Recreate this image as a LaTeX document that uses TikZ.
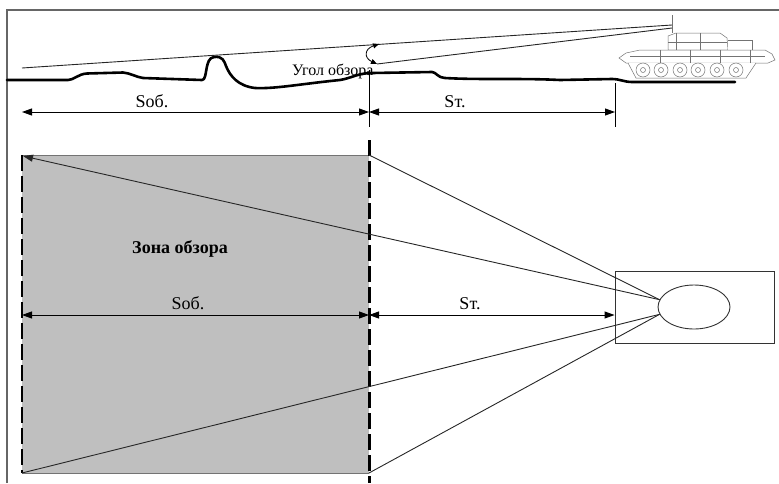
\documentclass[tikz,border=0pt]{standalone}
\usepackage{fontspec}
\setmainfont{Liberation Serif}
\usetikzlibrary{arrows.meta,shapes.geometric}

\tikzset{
	razmer/.style={{Triangle[length=10pt,width=7pt]}-{Triangle[length=10pt,width=7pt]}, line width=0.9pt},
	luch/.style={line width=0.9pt, black!85},
	grunt/.style={line width=2.6pt, line join=round, line cap=round},
	granica/.style={line width=2.2pt, dash pattern=on 16pt off 5pt},
	tank/.style={line width=0.5pt, black!55},
	podpis/.style={font=\fontsize{18}{20}\selectfont, inner sep=0pt},
}

\begin{document}
\begin{tikzpicture}[x=1pt,y=-1pt]
	\useasboundingbox (0,0) rectangle (779,483);
	% Рамка
		\draw[black!60, line width=1.2pt] (7,483) -- (7,10) -- (779,10);

	% Профиль местности
		\draw[grunt] (7,80) -- (68,80) .. controls (74,80) and (78,74) .. (87,73.5) -- (123,72.5)
			.. controls (130,73) and (136,77) .. (143,78) -- (202,80)
			.. controls (208,80) and (204,58) .. (214,57) .. controls (223,56) and (224,61) .. (226,66)
			.. controls (230,76) and (238,86) .. (255,88) .. controls (275,89) and (300,84) .. (340,80)
			.. controls (352,78) and (358,73) .. (372,73) -- (432,72)
			.. controls (436,72) and (438,78) .. (445,78) .. controls (480,80) and (520,78) .. (560,80)
			-- (612,79) .. controls (620,79) and (624,82) .. (632,82) -- (735,82);

	% Танк
		\coordinate (nabl) at (672,25);
		\draw[tank] (672,15) -- (672,33);
		\draw[tank, fill=white] (668,50) -- (668,36) -- (676,33) -- (720,33) -- (727,38) -- (728,50) -- cycle;
		\draw[tank] (676,33) -- (676,50) (700,33) -- (700,50) (668,42) -- (727,42);
		\draw[tank, fill=white] (728,40) -- (752,40) -- (752,50) -- (728,50);
		\draw[tank, fill=white] (619,58) -- (626,53) -- (640,50) -- (765,50) -- (772,54) -- (775,60)
			-- (768,63) -- (626,63) -- cycle;
		\draw[tank] (630,56) -- (765,56);
		\foreach \x in {660,690,720,750}
			\draw[tank] (\x,50) -- (\x,63);
		\draw[tank, fill=white] (628,63) -- (636,78) -- (746,78) -- (756,63);
		\foreach \x in {643,661,680,698,717,736}
			\draw[tank, fill=white] (\x,70) circle[radius=7pt] (\x,70) circle[radius=2.5pt];

	% Угол обзора
		\coordinate (dal) at (22,68);
		\coordinate (blizh) at (377,64);
		\draw[luch] (nabl) -- (dal);
		\draw[luch] (672,28) -- (blizh);
		\draw[{Triangle[length=6pt,width=5pt]}-{Triangle[length=6pt,width=5pt]}, line width=0.8pt]
			(379,44) .. controls (364,49) and (364,58) .. (blizh);
		\node[font=\fontsize{16}{18}\selectfont, anchor=base west, inner sep=0pt] (ugol) at (292,75) {Угол обзора};

	% Размеры на профиле
		\coordinate (g1) at (22,112);
		\coordinate (g2) at (369,112);
		\coordinate (g3) at (615,112);
		\draw[line width=0.8pt] (369,70) -- (369,127);
		\draw[line width=0.8pt] (615,83) -- (615,127);
		\draw[razmer] (g1) -- (g2);
		\draw[razmer] (g2) -- (g3);
		\node[podpis, anchor=base] (sob1) at (152,107) {Sоб.};
		\node[podpis, anchor=base] (st1) at (455,107) {Sт.};

	% Зона обзора
		\fill[black!25] (22,155) rectangle (369,473);
		\draw[black!55, line width=1pt] (22,155) -- (369,155) (22,473) -- (369,473);
		\draw[granica] (22,155) -- (22,473);
		\draw[granica, line width=2.6pt] (369.5,140) -- (369.5,483);
		\node[podpis, font=\fontsize{18}{20}\selectfont\bfseries, anchor=base] (zona) at (180,253) {Зона обзора};

	% Пост наблюдения
		\node[draw, black!80, line width=0.9pt, minimum width=159pt, minimum height=72pt, inner sep=0pt] (post) at (694.5,307) {};
		\node[draw, ellipse, black!80, line width=0.9pt, minimum width=72pt, minimum height=44pt, inner sep=0pt] (glaz) at (694,307) {};

	% Лучи
		\draw[luch] (369,155) -- (glaz.168);
		\draw[luch, -{Triangle[length=10pt,width=7pt]}] (glaz.168) -- (23,156);
		\draw[luch] (glaz.192) -- (22,473);
		\draw[luch] (glaz.192) -- (369,473);

	% Размеры в плане
		\coordinate (p1) at (22,315);
		\coordinate (p2) at (369,315);
		\draw[razmer] (p1) -- (p2);
		\draw[razmer] (p2) -- (post.west |- p2);
		\node[podpis, anchor=base] (sob2) at (188,309) {Sоб.};
		\node[podpis, anchor=base] (st2) at (470,309) {Sт.};
\end{tikzpicture}
\end{document}
